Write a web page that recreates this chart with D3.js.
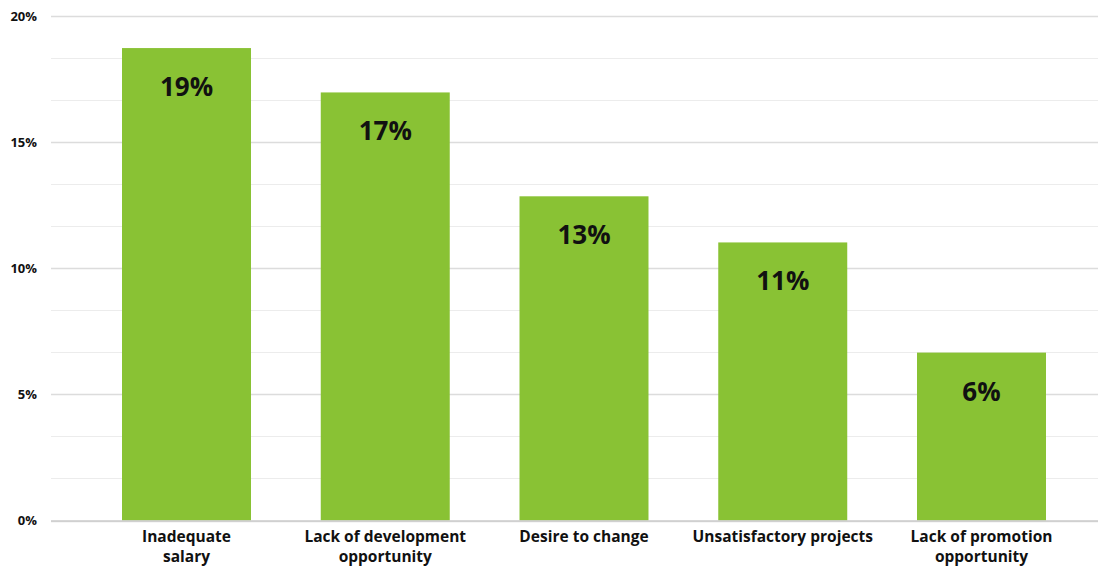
<!DOCTYPE html>
<html>
<head>
<meta charset="utf-8">
<script src="https://cdn.jsdelivr.net/npm/d3@7"></script>
<style>
  body { margin: 0; background: #fff; }
  text { font-family: "Open Sans", "Lato", sans-serif; font-weight: 700; fill: #111; }
</style>
</head>
<body>
<div id="chart"></div>
<script>
var categories = [
    ["Inadequate", "salary"],
    ["Lack of development", "opportunity"],
    ["Desire to change"],
    ["Unsatisfactory projects"],
    ["Lack of promotion", "opportunity"]
];
var values = [18.74, 16.98, 12.86, 11.03, 6.66];
var valueLabels = ["19%", "17%", "13%", "11%", "6%"];
var tickValues = [0, 5, 10, 15, 20];

var svgWidth = 1098;
var svgHeight = 566;

var svg = d3.select("#chart")
    .append("svg")
    .attr("width", svgWidth)
    .attr("height", svgHeight);

var xScale = d3.scaleBand()
    .domain(d3.range(values.length))
    .range([122, 1046])
    .paddingInner(0.351)
    .paddingOuter(0);

var yScale = d3.scaleLinear()
    .domain([0, 20])
    .range([520.5, 16.3]);

// gridlines, every 5/3 %
var grid = d3.range(0, 20.01, 5 / 3);
svg.append("g")
    .selectAll("line")
    .data(grid)
    .enter()
    .append("line")
    .attr("x1", 51)
    .attr("x2", svgWidth)
    .attr("y1", d => Math.round(yScale(d)) + 0.5)
    .attr("y2", d => Math.round(yScale(d)) + 0.5)
    .attr("stroke", (d, i) => i % 3 === 0 ? "#dcdcdc" : "#ececec")
    .attr("stroke-width", (d, i) => i % 3 === 0 ? 1.5 : 1);

// y axis labels
var leftAxis = d3.axisLeft(yScale)
    .tickValues(tickValues)
    .tickFormat(d => d + "%")
    .tickSize(0)
    .tickPadding(0);

var yAxis = svg.append("g")
    .attr("transform", "translate(37,0)")
    .call(leftAxis);
yAxis.select(".domain").remove();
yAxis.selectAll("text")
    .attr("font-size", "13px")
    .attr("font-family", null)
    .attr("fill", "#111");

// bars
svg.append("g")
    .selectAll("rect")
    .data(values)
    .enter()
    .append("rect")
    .attr("x", (d, i) => xScale(i))
    .attr("y", d => yScale(d))
    .attr("width", xScale.bandwidth())
    .attr("height", d => yScale(0) - yScale(d))
    .attr("fill", "#89c234");

// baseline
svg.append("line")
    .attr("x1", 51)
    .attr("x2", svgWidth)
    .attr("y1", yScale(0) + 0.5)
    .attr("y2", yScale(0) + 0.5)
    .attr("stroke", "#cccccc")
    .attr("stroke-width", 1.5);

// value labels
svg.append("g")
    .selectAll("text")
    .data(values)
    .enter()
    .append("text")
    .attr("x", (d, i) => xScale(i) + xScale.bandwidth() / 2)
    .attr("y", d => yScale(d) + 48)
    .attr("text-anchor", "middle")
    .attr("font-size", "26px")
    .text((d, i) => valueLabels[i]);

// category labels
var catGroup = svg.append("g")
    .selectAll("text")
    .data(categories)
    .enter()
    .append("text")
    .attr("x", (d, i) => xScale(i) + xScale.bandwidth() / 2)
    .attr("y", 542)
    .attr("text-anchor", "middle")
    .attr("font-size", "15.5px");

catGroup.selectAll("tspan")
    .data(d => d)
    .enter()
    .append("tspan")
    .attr("x", function () { return d3.select(this.parentNode).attr("x"); })
    .attr("dy", (d, i) => i === 0 ? 0 : 20)
    .text(d => d);
</script>
</body>
</html>
